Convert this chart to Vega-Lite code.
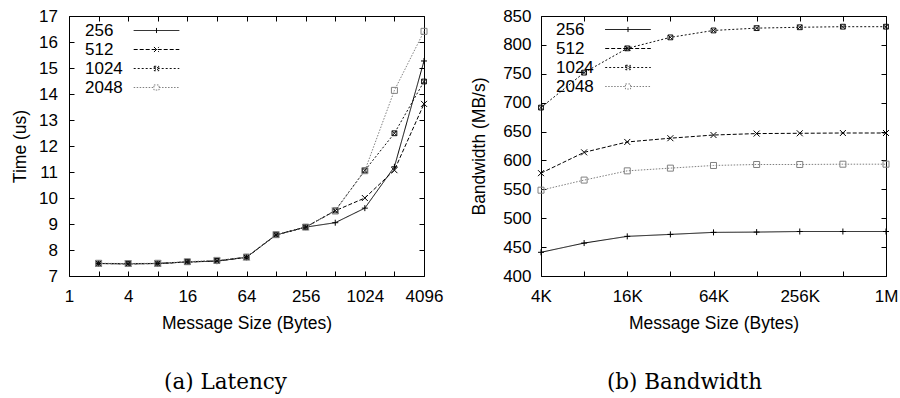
{
  "$schema": "https://vega.github.io/schema/vega-lite/v6.json",
  "background": "white",
  "padding": {"left": 10, "top": 6, "right": 0, "bottom": 0},
  "datasets": {
    "latency": [
      {"series": "256", "size": 2, "time": 7.48}, {"series": "256", "size": 4, "time": 7.47}, {"series": "256", "size": 8, "time": 7.48}, {"series": "256", "size": 16, "time": 7.54}, {"series": "256", "size": 32, "time": 7.57}, {"series": "256", "size": 64, "time": 7.72}, {"series": "256", "size": 128, "time": 8.58}, {"series": "256", "size": 256, "time": 8.88}, {"series": "256", "size": 512, "time": 9.05}, {"series": "256", "size": 1024, "time": 9.61}, {"series": "256", "size": 2048, "time": 11.2}, {"series": "256", "size": 4096, "time": 15.27},
      {"series": "512", "size": 2, "time": 7.48}, {"series": "512", "size": 4, "time": 7.47}, {"series": "512", "size": 8, "time": 7.48}, {"series": "512", "size": 16, "time": 7.54}, {"series": "512", "size": 32, "time": 7.58}, {"series": "512", "size": 64, "time": 7.72}, {"series": "512", "size": 128, "time": 8.58}, {"series": "512", "size": 256, "time": 8.88}, {"series": "512", "size": 512, "time": 9.51}, {"series": "512", "size": 1024, "time": 10.0}, {"series": "512", "size": 2048, "time": 11.07}, {"series": "512", "size": 4096, "time": 13.62},
      {"series": "1024", "size": 2, "time": 7.48}, {"series": "1024", "size": 4, "time": 7.47}, {"series": "1024", "size": 8, "time": 7.48}, {"series": "1024", "size": 16, "time": 7.54}, {"series": "1024", "size": 32, "time": 7.58}, {"series": "1024", "size": 64, "time": 7.72}, {"series": "1024", "size": 128, "time": 8.59}, {"series": "1024", "size": 256, "time": 8.88}, {"series": "1024", "size": 512, "time": 9.52}, {"series": "1024", "size": 1024, "time": 11.06}, {"series": "1024", "size": 2048, "time": 12.49}, {"series": "1024", "size": 4096, "time": 14.48},
      {"series": "2048", "size": 2, "time": 7.49}, {"series": "2048", "size": 4, "time": 7.48}, {"series": "2048", "size": 8, "time": 7.49}, {"series": "2048", "size": 16, "time": 7.55}, {"series": "2048", "size": 32, "time": 7.6}, {"series": "2048", "size": 64, "time": 7.73}, {"series": "2048", "size": 128, "time": 8.59}, {"series": "2048", "size": 256, "time": 8.88}, {"series": "2048", "size": 512, "time": 9.5}, {"series": "2048", "size": 1024, "time": 11.05}, {"series": "2048", "size": 2048, "time": 14.14}, {"series": "2048", "size": 4096, "time": 16.41}
    ],
    "bandwidth": [
      {"series": "256", "size": 4096, "bw": 441}, {"series": "256", "size": 8192, "bw": 457}, {"series": "256", "size": 16384, "bw": 468.6}, {"series": "256", "size": 32768, "bw": 472}, {"series": "256", "size": 65536, "bw": 475.5}, {"series": "256", "size": 131072, "bw": 476}, {"series": "256", "size": 262144, "bw": 477}, {"series": "256", "size": 524288, "bw": 477}, {"series": "256", "size": 1048576, "bw": 477},
      {"series": "512", "size": 4096, "bw": 578}, {"series": "512", "size": 8192, "bw": 614}, {"series": "512", "size": 16384, "bw": 632}, {"series": "512", "size": 32768, "bw": 638.5}, {"series": "512", "size": 65536, "bw": 644}, {"series": "512", "size": 131072, "bw": 646.5}, {"series": "512", "size": 262144, "bw": 647}, {"series": "512", "size": 524288, "bw": 647.5}, {"series": "512", "size": 1048576, "bw": 647.5},
      {"series": "1024", "size": 4096, "bw": 691.5}, {"series": "1024", "size": 8192, "bw": 752}, {"series": "1024", "size": 16384, "bw": 794}, {"series": "1024", "size": 32768, "bw": 813}, {"series": "1024", "size": 65536, "bw": 825}, {"series": "1024", "size": 131072, "bw": 829}, {"series": "1024", "size": 262144, "bw": 830.5}, {"series": "1024", "size": 524288, "bw": 831.5}, {"series": "1024", "size": 1048576, "bw": 831.5},
      {"series": "2048", "size": 4096, "bw": 548.5}, {"series": "2048", "size": 8192, "bw": 566}, {"series": "2048", "size": 16384, "bw": 582}, {"series": "2048", "size": 32768, "bw": 586.7}, {"series": "2048", "size": 65536, "bw": 591.3}, {"series": "2048", "size": 131072, "bw": 593}, {"series": "2048", "size": 262144, "bw": 593}, {"series": "2048", "size": 524288, "bw": 593.5}, {"series": "2048", "size": 1048576, "bw": 593.5}
    ]
  },
  "hconcat": [
    {
      "width": 355,
      "height": 260,
      "title": {"text": "(a) Latency", "orient": "bottom", "anchor": "middle", "font": "DejaVu Serif", "fontSize": 21.5, "fontWeight": "normal", "color": "#000", "offset": 40, "dx": -21},
      "data": {"name": "latency"},
      "layer": [
        {
          "mark": {"type": "line", "strokeWidth": 1},
          "encoding": {
            "x": {"field": "size", "type": "quantitative", "scale": {"type": "log", "base": 2, "domain": [1, 4096]},
              "axis": {"title": "Message Size (Bytes)", "values": [1, 2, 4, 8, 16, 32, 64, 128, 256, 512, 1024, 2048, 4096], "format": "d", "labelExpr": "round(log(datum.value)/LN2) % 2 == 1 ? '' : datum.label", "labelPadding": 17.3, "titlePadding": 10}},
            "y": {"field": "time", "type": "quantitative", "scale": {"domain": [7, 17], "nice": false, "zero": false},
              "axis": {"title": "Time (us)", "values": [7, 8, 9, 10, 11, 12, 13, 14, 15, 16, 17], "labelPadding": 16.6, "titlePadding": 9}},
            "color": {"field": "series", "type": "nominal", "legend": null, "scale": {"domain": ["256", "512", "1024", "2048"], "range": ["#000000", "#000000", "#111111", "#808080"]}},
            "strokeDash": {"field": "series", "type": "nominal", "legend": null, "scale": {"domain": ["256", "512", "1024", "2048"], "range": [[1, 0], [4, 2], [2, 2], [1.5, 1.5]]}}
          }
        },
        {
          "mark": {"type": "point", "filled": false, "size": 36, "strokeWidth": 1, "opacity": 1},
          "encoding": {
            "x": {"field": "size", "type": "quantitative", "scale": {"type": "log", "base": 2, "domain": [1, 4096]}, "axis": null},
            "y": {"field": "time", "type": "quantitative", "scale": {"domain": [7, 17], "nice": false, "zero": false}, "axis": null},
            "color": {"field": "series", "type": "nominal", "legend": null, "scale": {"domain": ["256", "512", "1024", "2048"], "range": ["#000000", "#000000", "#111111", "#808080"]}},
            "shape": {"field": "series", "type": "nominal", "legend": null, "scale": {"domain": ["256", "512", "1024", "2048"], "range": ["M-1,0H1M0,-1V1", "M-1,-1L1,1M-1,1L1,-1", "M-0.8,-0.8H0.8V0.8H-0.8ZM-0.8,-0.8L0.8,0.8M-0.8,0.8L0.8,-0.8", "M-1,-1H1V1H-1Z"]}}
          }
        },
        {
          "mark": {"type": "point", "opacity": 0},
          "encoding": {
            "x": {"field": "size", "type": "quantitative", "scale": {"type": "log", "base": 2, "domain": [1, 4096]},
              "axis": {"orient": "top", "labels": false, "title": null, "values": [1, 2, 4, 8, 16, 32, 64, 128, 256, 512, 1024, 2048, 4096]}},
            "y": {"field": "time", "type": "quantitative", "scale": {"domain": [7, 17], "nice": false, "zero": false},
              "axis": {"orient": "right", "labels": false, "title": null, "values": [7, 8, 9, 10, 11, 12, 13, 14, 15, 16, 17]}}
          }
        },
        {
          "transform": [{"filter": "false"}],
          "mark": {"type": "point", "filled": false, "strokeWidth": 1, "opacity": 1},
          "encoding": {
            "x": {"field": "size", "type": "quantitative", "scale": {"type": "log", "base": 2, "domain": [1, 4096]}, "axis": null},
            "y": {"field": "time", "type": "quantitative", "scale": {"domain": [7, 17], "nice": false, "zero": false}, "axis": null},
            "color": {"field": "series", "type": "nominal", "scale": {"domain": ["256", "512", "1024", "2048"], "range": ["#000000", "#000000", "#111111", "#808080"]},
              "legend": {"title": null, "orient": "none", "legendX": -5, "legendY": 6, "padding": 0, "labelFont": "Liberation Sans", "labelFontSize": 17, "labelColor": "#000", "symbolSize": 36, "symbolStrokeWidth": 1, "symbolOffset": 84, "labelOffset": -80, "rowPadding": 1, "labelExpr": "length(datum.label) < 4 ? '\u2007' + datum.label : datum.label"}},
            "strokeDash": {"field": "series", "type": "nominal", "scale": {"domain": ["256", "512", "1024", "2048"], "range": [[1, 0], [4, 2], [2, 2], [1.5, 1.5]]},
              "legend": {"title": null, "orient": "none", "legendX": -5, "legendY": 6, "padding": 0, "labelFont": "Liberation Sans", "labelFontSize": 17, "labelColor": "#000", "symbolSize": 36, "symbolStrokeWidth": 1, "symbolOffset": 84, "labelOffset": -80, "rowPadding": 1, "labelExpr": "length(datum.label) < 4 ? '\u2007' + datum.label : datum.label"}},
            "shape": {"field": "series", "type": "nominal", "scale": {"domain": ["256", "512", "1024", "2048"], "range": ["M-7.6,0H7.6M0,-0.85V0.85", "M-7.6,0H7.6M-0.85,-0.85L0.85,0.85M-0.85,0.85L0.85,-0.85", "M-7.6,0H7.6M-0.75,-0.75H0.75V0.75H-0.75ZM-0.75,-0.75L0.75,0.75M-0.75,0.75L0.75,-0.75", "M-7.6,0H-0.85M0.85,0H7.6M-0.85,-0.85H0.85V0.85H-0.85Z"]},
              "legend": {"title": null, "orient": "none", "legendX": -5, "legendY": 6, "padding": 0, "labelFont": "Liberation Sans", "labelFontSize": 17, "labelColor": "#000", "symbolSize": 36, "symbolStrokeWidth": 1, "symbolOffset": 84, "labelOffset": -80, "rowPadding": 1, "labelExpr": "length(datum.label) < 4 ? '\u2007' + datum.label : datum.label"}}
          }
        }
      ],
      "resolve": {"axis": {"x": "independent", "y": "independent"}, "scale": {"shape": "independent"}, "legend": {"color": "independent", "strokeDash": "independent", "shape": "independent"}}
    },
    {
      "width": 345,
      "height": 260,
      "title": {"text": "(b) Bandwidth", "orient": "bottom", "anchor": "middle", "font": "DejaVu Serif", "fontSize": 21.5, "fontWeight": "normal", "color": "#000", "offset": 40, "dx": -29},
      "data": {"name": "bandwidth"},
      "layer": [
        {
          "mark": {"type": "line", "strokeWidth": 1},
          "encoding": {
            "x": {"field": "size", "type": "quantitative", "scale": {"type": "log", "base": 2, "domain": [4096, 1048576]},
              "axis": {"title": "Message Size (Bytes)", "values": [4096, 8192, 16384, 32768, 65536, 131072, 262144, 524288, 1048576], "labelExpr": "round(log(datum.value)/LN2) % 2 == 1 ? '' : (datum.value >= 1048576 ? (datum.value/1048576) + 'M' : (datum.value/1024) + 'K')", "labelPadding": 17.3, "titlePadding": 10}},
            "y": {"field": "bw", "type": "quantitative", "scale": {"domain": [400, 850], "nice": false, "zero": false},
              "axis": {"title": "Bandwidth (MB/s)", "values": [400, 450, 500, 550, 600, 650, 700, 750, 800, 850], "labelPadding": 15, "titlePadding": 14}},
            "color": {"field": "series", "type": "nominal", "legend": null, "scale": {"domain": ["256", "512", "1024", "2048"], "range": ["#000000", "#000000", "#111111", "#808080"]}},
            "strokeDash": {"field": "series", "type": "nominal", "legend": null, "scale": {"domain": ["256", "512", "1024", "2048"], "range": [[1, 0], [4, 2], [2, 2], [1.5, 1.5]]}}
          }
        },
        {
          "mark": {"type": "point", "filled": false, "size": 36, "strokeWidth": 1, "opacity": 1},
          "encoding": {
            "x": {"field": "size", "type": "quantitative", "scale": {"type": "log", "base": 2, "domain": [4096, 1048576]}, "axis": null},
            "y": {"field": "bw", "type": "quantitative", "scale": {"domain": [400, 850], "nice": false, "zero": false}, "axis": null},
            "color": {"field": "series", "type": "nominal", "legend": null, "scale": {"domain": ["256", "512", "1024", "2048"], "range": ["#000000", "#000000", "#111111", "#808080"]}},
            "shape": {"field": "series", "type": "nominal", "legend": null, "scale": {"domain": ["256", "512", "1024", "2048"], "range": ["M-1,0H1M0,-1V1", "M-1,-1L1,1M-1,1L1,-1", "M-0.8,-0.8H0.8V0.8H-0.8ZM-0.8,-0.8L0.8,0.8M-0.8,0.8L0.8,-0.8", "M-1,-1H1V1H-1Z"]}}
          }
        },
        {
          "mark": {"type": "point", "opacity": 0},
          "encoding": {
            "x": {"field": "size", "type": "quantitative", "scale": {"type": "log", "base": 2, "domain": [4096, 1048576]},
              "axis": {"orient": "top", "labels": false, "title": null, "values": [4096, 8192, 16384, 32768, 65536, 131072, 262144, 524288, 1048576]}},
            "y": {"field": "bw", "type": "quantitative", "scale": {"domain": [400, 850], "nice": false, "zero": false},
              "axis": {"orient": "right", "labels": false, "title": null, "values": [400, 450, 500, 550, 600, 650, 700, 750, 800, 850]}}
          }
        },
        {
          "transform": [{"filter": "false"}],
          "mark": {"type": "point", "filled": false, "strokeWidth": 1, "opacity": 1},
          "encoding": {
            "x": {"field": "size", "type": "quantitative", "scale": {"type": "log", "base": 2, "domain": [4096, 1048576]}, "axis": null},
            "y": {"field": "bw", "type": "quantitative", "scale": {"domain": [400, 850], "nice": false, "zero": false}, "axis": null},
            "color": {"field": "series", "type": "nominal", "scale": {"domain": ["256", "512", "1024", "2048"], "range": ["#000000", "#000000", "#111111", "#808080"]},
              "legend": {"title": null, "orient": "none", "legendX": -6, "legendY": 5, "padding": 0, "labelFont": "Liberation Sans", "labelFontSize": 17, "labelColor": "#000", "symbolSize": 36, "symbolStrokeWidth": 1, "symbolOffset": 84.5, "labelOffset": -80.5, "rowPadding": 1, "labelExpr": "length(datum.label) < 4 ? '\u2007' + datum.label : datum.label"}},
            "strokeDash": {"field": "series", "type": "nominal", "scale": {"domain": ["256", "512", "1024", "2048"], "range": [[1, 0], [4, 2], [2, 2], [1.5, 1.5]]},
              "legend": {"title": null, "orient": "none", "legendX": -6, "legendY": 5, "padding": 0, "labelFont": "Liberation Sans", "labelFontSize": 17, "labelColor": "#000", "symbolSize": 36, "symbolStrokeWidth": 1, "symbolOffset": 84.5, "labelOffset": -80.5, "rowPadding": 1, "labelExpr": "length(datum.label) < 4 ? '\u2007' + datum.label : datum.label"}},
            "shape": {"field": "series", "type": "nominal", "scale": {"domain": ["256", "512", "1024", "2048"], "range": ["M-7.6,0H7.6M0,-0.85V0.85", "M-7.6,0H7.6M-0.85,-0.85L0.85,0.85M-0.85,0.85L0.85,-0.85", "M-7.6,0H7.6M-0.75,-0.75H0.75V0.75H-0.75ZM-0.75,-0.75L0.75,0.75M-0.75,0.75L0.75,-0.75", "M-7.6,0H-0.85M0.85,0H7.6M-0.85,-0.85H0.85V0.85H-0.85Z"]},
              "legend": {"title": null, "orient": "none", "legendX": -6, "legendY": 5, "padding": 0, "labelFont": "Liberation Sans", "labelFontSize": 17, "labelColor": "#000", "symbolSize": 36, "symbolStrokeWidth": 1, "symbolOffset": 84.5, "labelOffset": -80.5, "rowPadding": 1, "labelExpr": "length(datum.label) < 4 ? '\u2007' + datum.label : datum.label"}}
          }
        }
      ],
      "resolve": {"axis": {"x": "independent", "y": "independent"}, "scale": {"shape": "independent"}, "legend": {"color": "independent", "strokeDash": "independent", "shape": "independent"}}
    }
  ],
  "resolve": {"scale": {"color": "independent", "strokeDash": "independent", "shape": "independent"}, "legend": {"color": "independent", "strokeDash": "independent", "shape": "independent"}},
  "spacing": 117,
  "bounds": "flush",
  "config": {
    "view": {"stroke": "#000000", "strokeWidth": 1},
    "axis": {"labelFont": "Liberation Sans", "labelFontSize": 17, "labelColor": "#000000", "titleFont": "Liberation Sans", "titleFontSize": 17.5, "titleFontWeight": "normal", "titleColor": "#000000", "domain": false, "grid": false, "tickColor": "#000000", "tickSize": -5, "tickWidth": 1, "labelFlush": false, "labelOverlap": false, "labelBound": false}
  }
}
